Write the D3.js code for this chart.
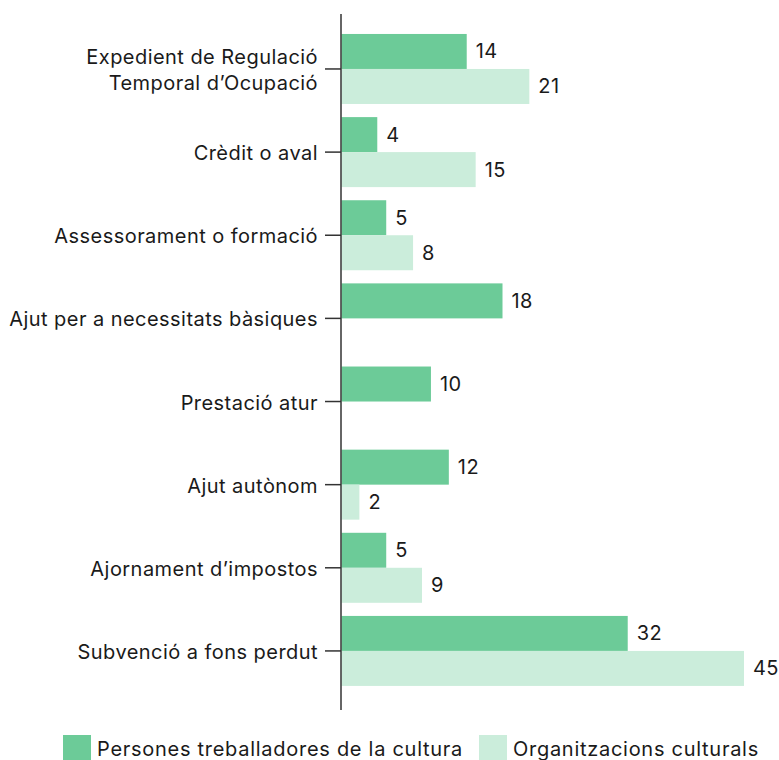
<!DOCTYPE html>
<html>
<head>
<meta charset="utf-8">
<script src="https://cdn.jsdelivr.net/npm/d3@7"></script>
<style>
  html, body { margin: 0; padding: 0; background: #fff; }
  svg { display: block; }
  text { font-family: Inter, "Noto Sans", sans-serif; fill: #1a1a1a; letter-spacing: 0.45px; }
  .legend text { letter-spacing: 0.72px; }
</style>
</head>
<body>
<div id="chart"></div>
<script>
const categories = [
  ["Expedient de Regulació", "Temporal d\u2019Ocupació"],
  ["Crèdit o aval"],
  ["Assessorament o formació"],
  ["Ajut per a necessitats bàsiques"],
  ["Prestació atur"],
  ["Ajut autònom"],
  ["Ajornament d\u2019impostos"],
  ["Subvenció a fons perdut"]
];
const seriesNames = ["Persones treballadores de la cultura", "Organitzacions culturals"];
const workers = [14, 4, 5, 18, 10, 12, 5, 32];
const organizations = [21, 15, 8, null, null, 2, 9, 45];
const seriesColors = ["#6ccb98", "#cbeddb"];

const W = 779, H = 760;
const svg = d3.select("#chart").append("svg").attr("width", W).attr("height", H);

const keys = categories.map((c, i) => i);
const y = d3.scaleBand().domain(keys).range([27.4, 692.5]).paddingInner(0.158).paddingOuter(0.079);
const ySub = d3.scaleBand().domain([0, 1]).range([0, y.bandwidth()]);
const x = d3.scaleLinear().domain([0, 45]).range([341.5, 744]);

const series = [workers, organizations];
const fs = 20;

series.forEach((vals, s) => {
  const g = svg.append("g");
  const rows = vals.map((v, i) => ({ i, v })).filter(d => d.v != null);
  g.selectAll("rect").data(rows).join("rect")
    .attr("x", x(0))
    .attr("y", d => y(d.i) + ySub(s))
    .attr("width", d => x(d.v) - x(0))
    .attr("height", ySub.bandwidth())
    .attr("fill", seriesColors[s]);
  g.selectAll("text").data(rows).join("text")
    .attr("x", d => x(d.v) + 9)
    .attr("y", d => y(d.i) + ySub(s) + ySub.bandwidth() / 2)
    .attr("dy", "0.35em")
    .attr("font-size", fs)
    .text(d => d.v);
});

// axis
const axisG = svg.append("g").attr("transform", `translate(${x(0) - 0.5},0)`);
axisG.call(d3.axisLeft(y).tickSize(16).tickPadding(7).tickFormat(""));
axisG.select(".domain").remove();
axisG.selectAll(".tick line").attr("stroke", "#333").attr("stroke-width", 1.5);
axisG.append("line").attr("x1", 0).attr("x2", 0).attr("y1", 14).attr("y2", 710)
  .attr("stroke", "#333").attr("stroke-width", 1.5);

// category labels
const lh = 26;
axisG.selectAll(".tick").each(function(d) {
  const lines = categories[d];
  const t = d3.select(this).append("text")
    .attr("x", -23)
    .attr("text-anchor", "end")
    .attr("font-size", fs)
    .style("fill", "#1a1a1a");
  lines.forEach((ln, k) => {
    t.append("tspan").attr("x", -23)
      .attr("y", (k - (lines.length - 1) / 2) * lh + 1)
      .attr("dy", "0.35em")
      .text(ln);
  });
});

// legend
const legend = svg.append("g").attr("class", "legend");
const legX = [63, 479];
seriesNames.forEach((n, s) => {
  legend.append("rect").attr("x", legX[s]).attr("y", 735).attr("width", 28).attr("height", 28)
    .attr("fill", seriesColors[s]);
  legend.append("text").attr("x", legX[s] + 34).attr("y", 756).attr("font-size", fs).text(n);
});
</script>
</body>
</html>
